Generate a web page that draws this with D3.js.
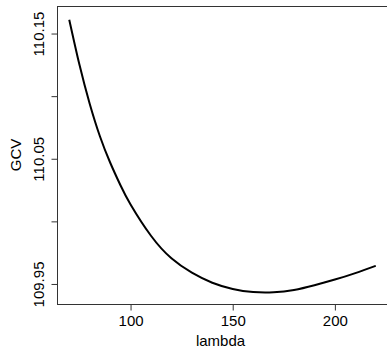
<!DOCTYPE html>
<html>
<head>
<meta charset="utf-8">
<script src="https://cdn.jsdelivr.net/npm/d3@7"></script>
<style>
  body { margin: 0; background: #fff; }
  text { font-family: "Liberation Sans", Arial, sans-serif; font-size: 15px; fill: #000; }
</style>
</head>
<body>
<svg id="chart" width="387" height="349"></svg>
<script>
//data
var lambda = [70, 75, 80, 85, 90, 95, 100, 110, 120, 130, 140, 150, 160, 170, 180, 190, 200, 210, 220];
var gcv = [110.161, 110.125, 110.094, 110.068, 110.047, 110.029, 110.0135, 109.9885, 109.9705,
           109.959, 109.951, 109.946, 109.9435, 109.9433, 109.9452, 109.949, 109.9535, 109.9587, 109.9645];
var xTicks = [100, 150, 200];
var yTicks = [109.95, 110.00, 110.05, 110.10, 110.15];
var yLabels = [109.95, 110.05, 110.15];//R drops the ones that would overlap

var svg = d3.select("#chart");

//plot box, the right edge runs off the picture
//(no "top" as a name here, window.top is taken)
var boxLeft = 57, boxRight = 388, boxTop = 6, boxBottom = 304;

var x = d3.scaleLinear().domain([64, 226]).range([boxLeft, boxRight]);
var y = d3.scaleLinear().domain([109.934, 110.172]).range([boxBottom, boxTop]);

//box
svg.append("rect")
  .attr("x", boxLeft + 0.5).attr("y", boxTop + 0.5)
  .attr("width", boxRight - boxLeft).attr("height", boxBottom - boxTop)
  .attr("fill", "none").attr("stroke", "#333").attr("stroke-width", 1);

//x axis
var xAxis = svg.append("g")
  .attr("transform", "translate(0," + (boxBottom + 0.5) + ")")
  .call(d3.axisBottom(x).tickValues(xTicks).tickSize(6).tickSizeOuter(0).tickPadding(5));
xAxis.select(".domain").remove();
xAxis.selectAll("line").attr("stroke", "#333");
xAxis.selectAll("text").attr("font-size", 15).attr("font-family", null);

//y axis, labels turned like R's las=0
var yAxis = svg.append("g")
  .attr("transform", "translate(" + (boxLeft + 0.5) + ",0)")
  .call(d3.axisLeft(y).tickValues(yTicks).tickSize(6).tickSizeOuter(0)
    .tickFormat(function(d) { return yLabels.indexOf(d) >= 0 ? d3.format(".2f")(d) : ""; }));
yAxis.select(".domain").remove();
yAxis.selectAll("line").attr("stroke", "#333");
yAxis.selectAll("text")
  .attr("font-size", 15).attr("font-family", null)
  .attr("x", null).attr("dy", null)
  .attr("text-anchor", "middle")
  .attr("transform", "translate(-13.5,0) rotate(-90)");

//axis titles
svg.append("text")
  .attr("x", (boxLeft + 380) / 2 + 2).attr("y", 346)
  .attr("text-anchor", "middle")
  .text("lambda");

svg.append("text")
  .attr("transform", "translate(20.5," + ((boxTop + boxBottom) / 2) + ") rotate(-90)")
  .attr("text-anchor", "middle")
  .text("GCV");

//the curve
var line = d3.line()
  .x(function(d, i) { return x(lambda[i]); })
  .y(function(d) { return y(d); })
  .curve(d3.curveNatural);

svg.append("path")
  .datum(gcv)
  .attr("d", line)
  .attr("fill", "none")
  .attr("stroke", "#000")
  .attr("stroke-width", 2);
</script>
</body>
</html>
